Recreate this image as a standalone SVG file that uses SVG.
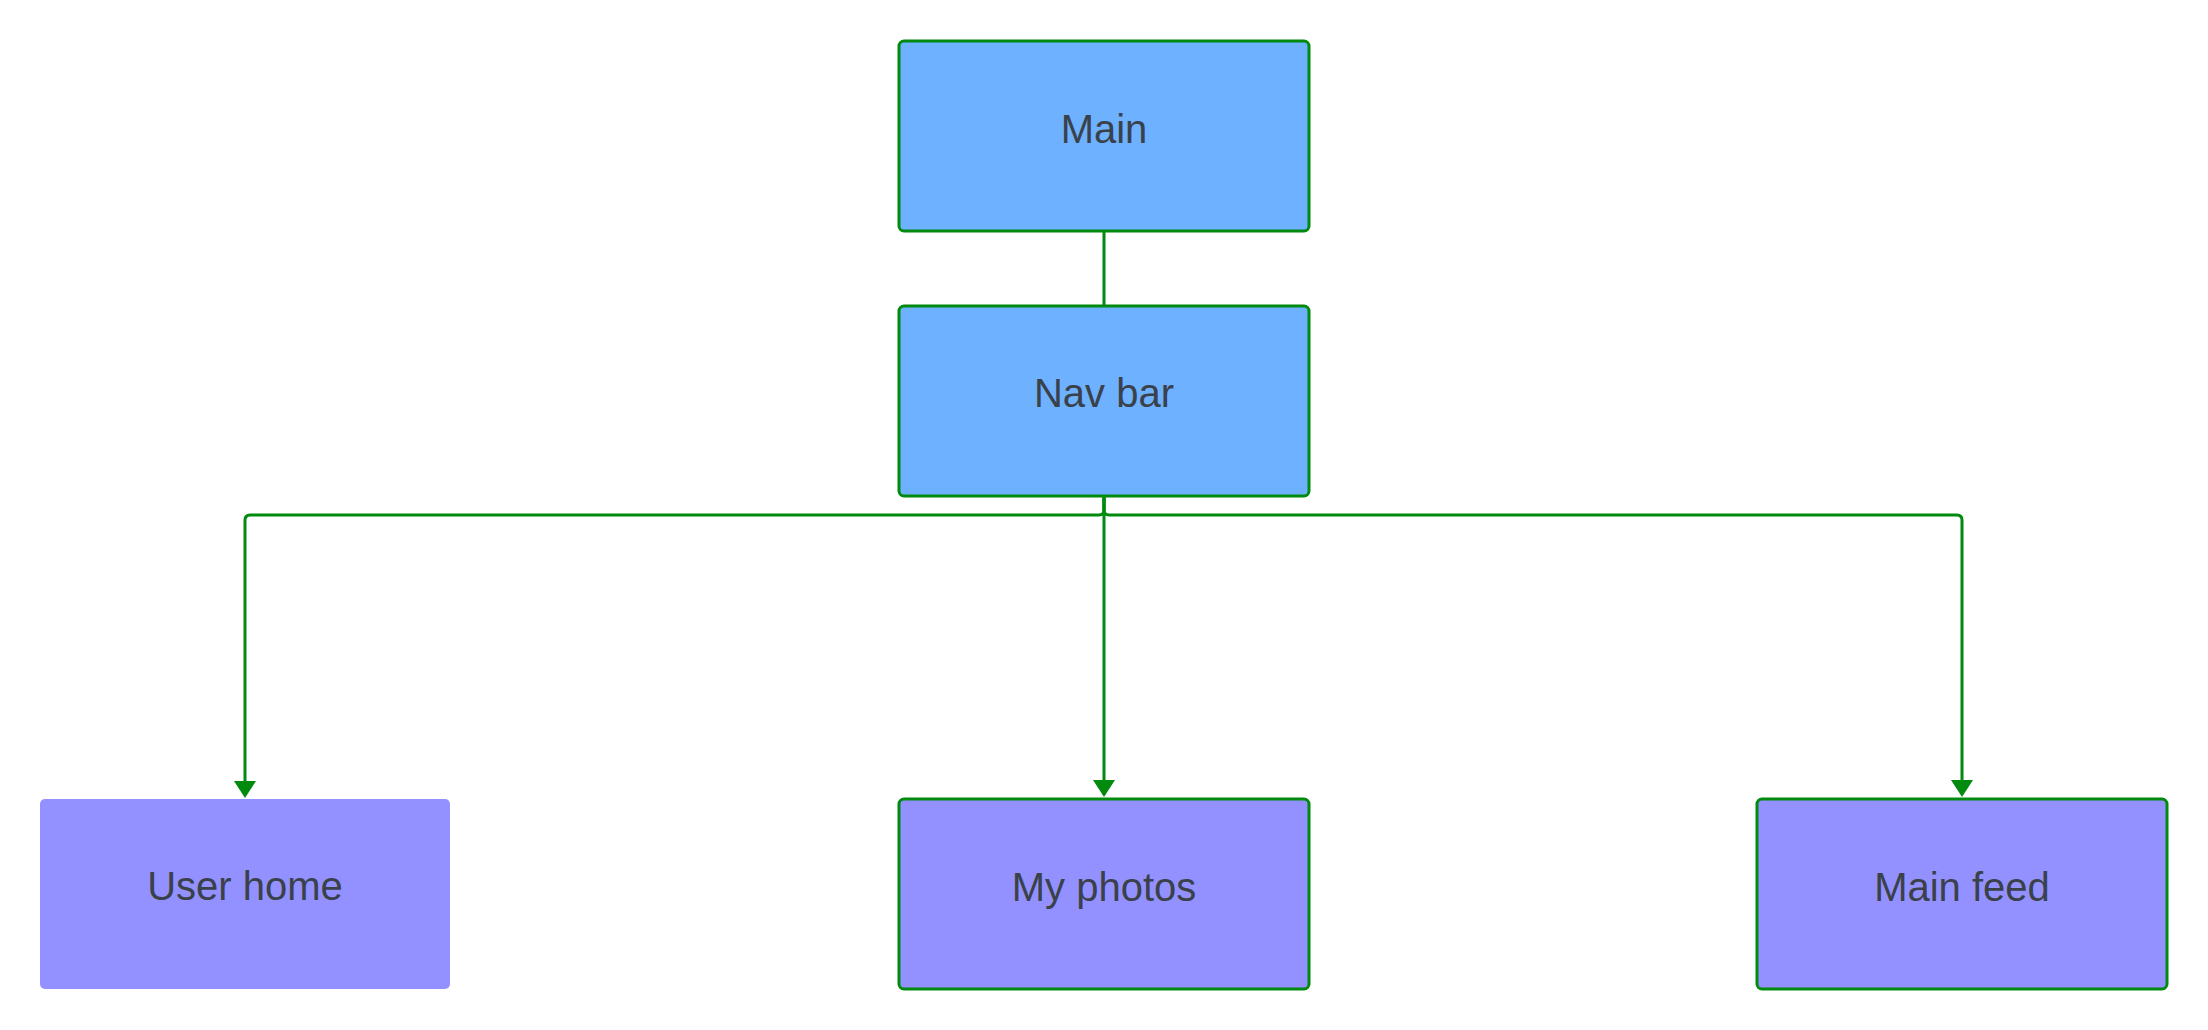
<svg xmlns="http://www.w3.org/2000/svg" width="2208" height="1030" viewBox="0 0 2208 1030">
<defs>
<style>
.box{stroke:#008a0e;stroke-width:3}
.blue{fill:#6db1ff}
.purple{fill:#9391ff}
.lbl{font-family:"Liberation Sans",Arial,sans-serif;font-size:40px;fill:#3a414a;text-anchor:middle}
.conn{fill:none;stroke:#008a0e;stroke-width:3}
</style>
</defs>
<rect width="2208" height="1030" fill="#ffffff"/>
<g id="connectors">
<path class="conn" d="M1104,231 L1104,306"/>
<path class="conn" d="M1104,496 L1104,510 Q1104,515 1099,515 L250,515 Q245,515 245,520 L245,782"/>
<path class="conn" d="M1104,496 L1104,782"/>
<path class="conn" d="M1104,496 L1104,510 Q1104,515 1109,515 L1957,515 Q1962,515 1962,520 L1962,782"/>
<path d="M234,781 L256,781 L245,798 Z" fill="#008a0e"/>
<path d="M1093,780 L1115,780 L1104,797 Z" fill="#008a0e"/>
<path d="M1951,780 L1973,780 L1962,797 Z" fill="#008a0e"/>
</g>
<g id="main">
<rect class="box blue" x="899" y="41" width="410" height="190" rx="5"/>
<text class="lbl" x="1104" y="143">Main</text>
</g>
<g id="navbar">
<rect class="box blue" x="899" y="306" width="410" height="190" rx="5"/>
<text class="lbl" x="1104" y="407">Nav bar</text>
</g>
<g id="userhome">
<rect class="purple" x="40" y="799" width="410" height="190" rx="5"/>
<text class="lbl" x="245" y="900">User home</text>
</g>
<g id="myphotos">
<rect class="box purple" x="899" y="799" width="410" height="190" rx="5"/>
<text class="lbl" x="1104" y="901">My photos</text>
</g>
<g id="mainfeed">
<rect class="box purple" x="1757" y="799" width="410" height="190" rx="5"/>
<text class="lbl" x="1962" y="901">Main feed</text>
</g>
</svg>
